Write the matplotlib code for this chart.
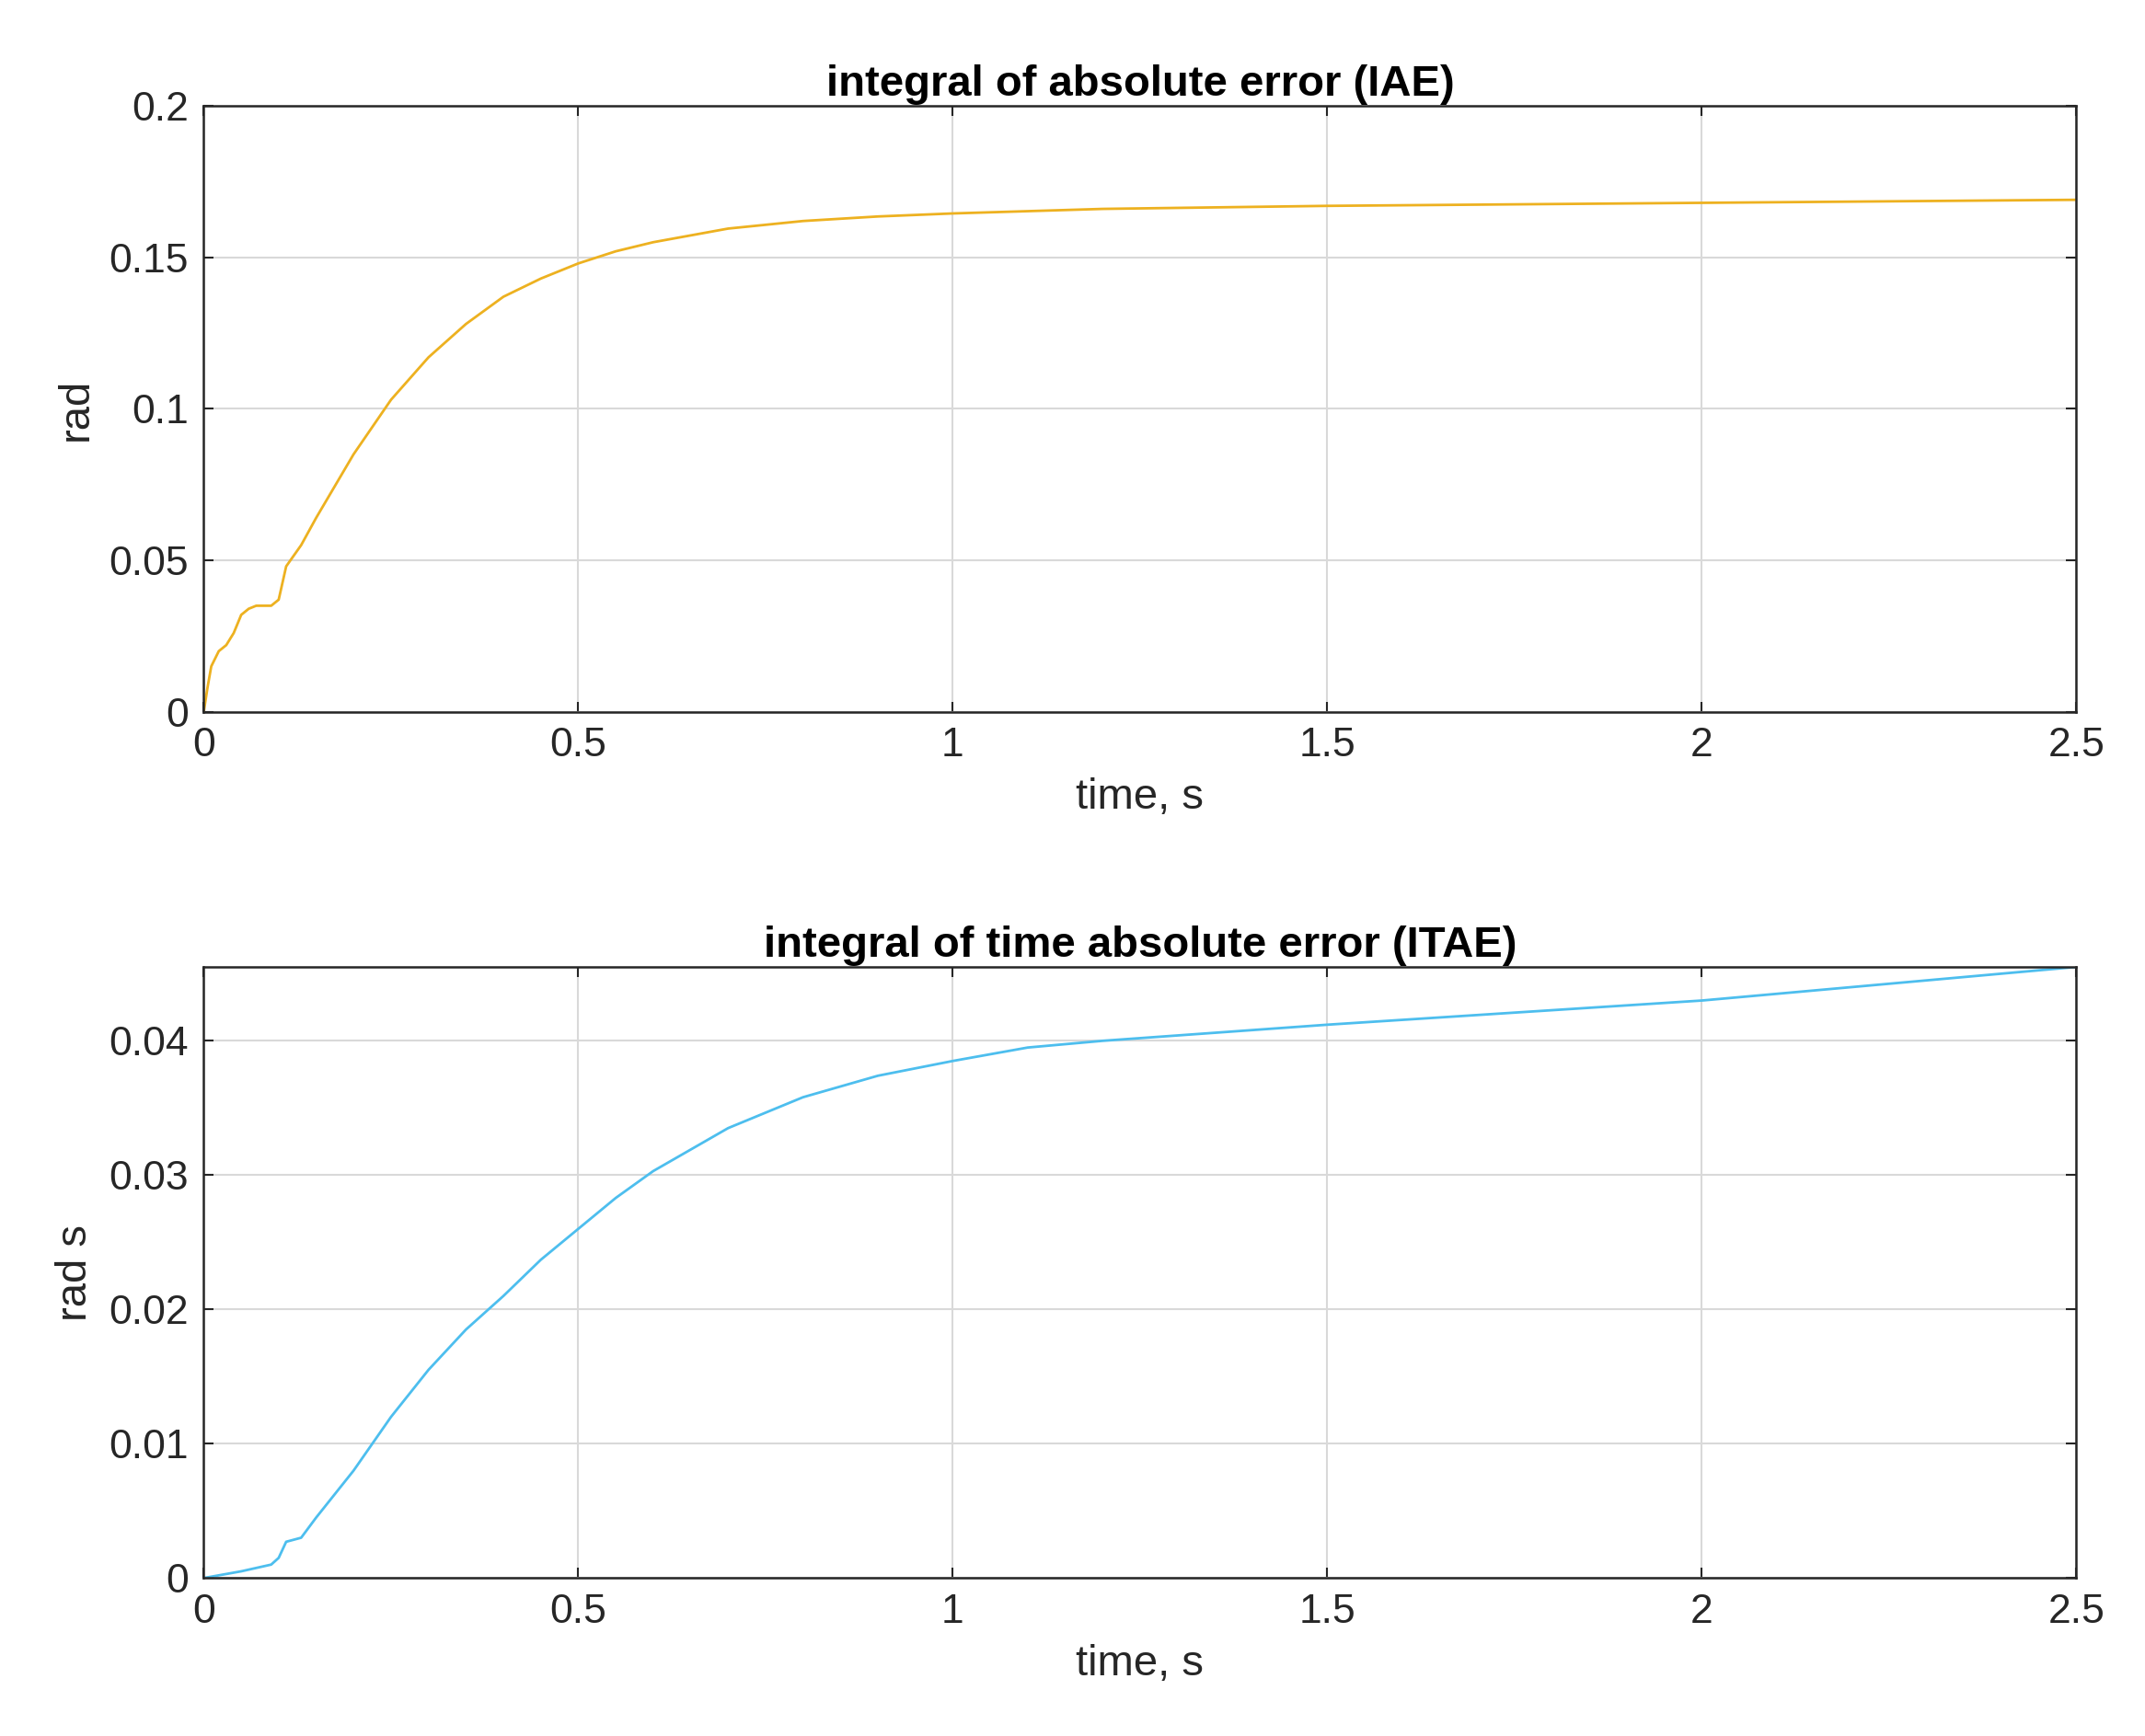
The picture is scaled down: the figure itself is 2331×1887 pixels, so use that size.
import matplotlib
matplotlib.use("Agg")
import matplotlib.pyplot as plt

t_iae = [0, 0.005, 0.01, 0.02, 0.03, 0.04, 0.05, 0.06, 0.07, 0.09, 0.1, 0.11, 0.13, 0.15, 0.2, 0.25, 0.3, 0.35, 0.4, 0.45, 0.5, 0.55, 0.6, 0.7, 0.8, 0.9, 1.0, 1.2, 1.5, 2.0, 2.5]
iae = [0, 0.008, 0.015, 0.02, 0.022, 0.026, 0.032, 0.034, 0.035, 0.035, 0.037, 0.048, 0.055, 0.064, 0.085, 0.103, 0.117, 0.128, 0.137, 0.143, 0.148, 0.152, 0.155, 0.1595, 0.162, 0.1635, 0.1645, 0.166, 0.167, 0.168, 0.169]
t_itae = [0, 0.05, 0.09, 0.1, 0.11, 0.13, 0.15, 0.2, 0.25, 0.3, 0.35, 0.4, 0.45, 0.5, 0.55, 0.6, 0.7, 0.8, 0.9, 1.0, 1.1, 1.2, 1.5, 2.0, 2.5]
itae = [0, 0.0005, 0.001, 0.0015, 0.0027, 0.003, 0.0045, 0.008, 0.012, 0.0155, 0.0185, 0.021, 0.0237, 0.026, 0.0283, 0.0303, 0.0335, 0.0358, 0.0374, 0.0385, 0.0395, 0.040, 0.0412, 0.043, 0.0455]

plt.rcParams['font.family'] = ['Liberation Sans', 'DejaVu Sans']
fig = plt.figure(figsize=(23.31, 18.87), dpi=100)
ax1 = fig.add_axes([0.095, 0.590, 0.873, 0.349])
ax2 = fig.add_axes([0.095, 0.091, 0.873, 0.352])

def style(ax, title, ylabel):
    ax.grid(True, color='#d9d9d9', linewidth=1.5)
    ax.set_axisbelow(True)
    ax.set_xlim(0, 2.5)
    ax.set_xticks([0, 0.5, 1, 1.5, 2, 2.5])
    ax.set_xticklabels(['0', '0.5', '1', '1.5', '2', '2.5'])
    ax.tick_params(labelsize=32, colors='#262626', direction='in', length=8, width=1.5, top=True, right=True, pad=12)
    for s in ax.spines.values():
        s.set_color('#262626'); s.set_linewidth(1.8)
    ax.set_title(title, fontsize=34, fontweight='bold', pad=8)
    ax.set_xlabel('time, s', fontsize=34, color='#262626', labelpad=10)
    ax.set_ylabel(ylabel, fontsize=34, color='#262626', labelpad=10)

ax1.plot(t_iae, iae, color='#EDB120', linewidth=2)
ax1.set_ylim(0, 0.2)
ax1.set_yticks([0, 0.05, 0.1, 0.15, 0.2])
ax1.set_yticklabels(['0', '0.05', '0.1', '0.15', '0.2'])
style(ax1, 'integral of absolute error (IAE)', 'rad')

ax2.plot(t_itae, itae, color='#4DBEEE', linewidth=2)
ax2.set_ylim(0, 0.0455)
ax2.set_yticks([0, 0.01, 0.02, 0.03, 0.04])
ax2.set_yticklabels(['0', '0.01', '0.02', '0.03', '0.04'])
style(ax2, 'integral of time absolute error (ITAE)', 'rad s')

fig.savefig('out.png', dpi=100)
